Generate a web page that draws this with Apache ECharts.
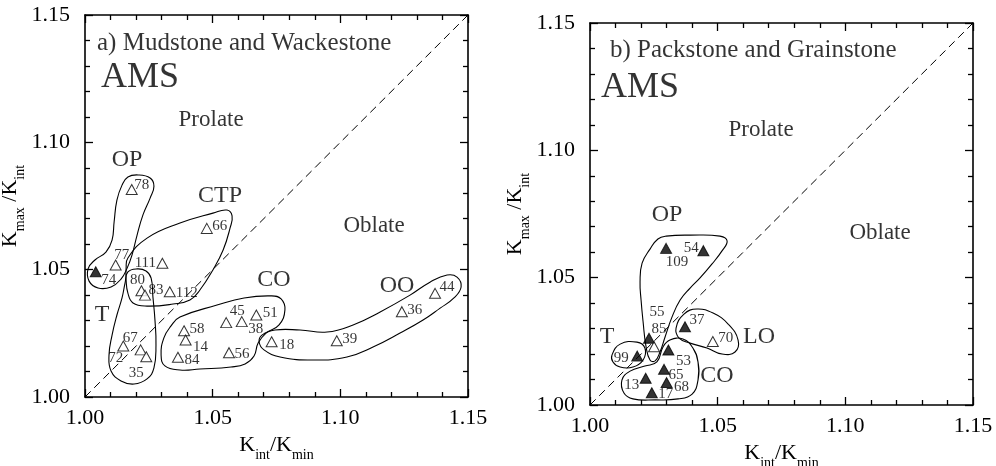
<!DOCTYPE html>
<html><head><meta charset="utf-8">
<script src="https://cdn.jsdelivr.net/npm/echarts@6/dist/echarts.min.js"></script>
<style>html,body{margin:0;padding:0;background:#fff}#main{width:996px;height:466px}</style>
</head><body><div id="main"></div>
<script>
// ---------------- DATA ----------------
const AXIS_MIN = 1.00, AXIS_MAX = 1.15, AXIS_STEP = 0.05;
const tickLabels = ['1.00', '1.05', '1.10', '1.15'];

// a) Mudstone and Wackestone
const leftIds = ['74','77','111','78','66','80','83','112','67','72','35','58','14','84','45','38','51','56','18','39','36','44'];
const leftX   = [1.0042,1.0120,1.0303,1.0183,1.0477,1.0221,1.0235,1.0332,1.0150,1.0218,1.0240,1.0388,1.0394,1.0364,1.0553,1.0614,1.0671,1.0564,1.0731,1.0986,1.1241,1.1371];
const leftY   = [1.0492,1.0518,1.0525,1.0815,1.0662,1.0417,1.0400,1.0413,1.0200,1.0185,1.0158,1.0260,1.0224,1.0156,1.0292,1.0296,1.0322,1.0174,1.0217,1.0221,1.0335,1.0407];
const leftFilled = ['74'];

// b) Packstone and Grainstone
const rightIds = ['109','54','55','85','37','70','99','53','65','13','68','17'];
const rightX   = [1.0298,1.0444,1.0231,1.0251,1.0372,1.0481,1.0185,1.0307,1.0290,1.0218,1.0300,1.0242];
const rightY   = [1.0615,1.0606,1.0262,1.0229,1.0307,1.0249,1.0192,1.0216,1.0140,1.0105,1.0088,1.0048];
const rightOpen = ['85','70'];

// group outlines (data coordinates)
const contourA_OP  = [[1.0208,1.0872],[1.0255,1.0860],[1.0270,1.0828],[1.0255,1.0781],[1.0227,1.0715],[1.0204,1.0636],[1.0184,1.0557],[1.0165,1.0506],[1.0141,1.0463],[1.0102,1.0432],[1.0051,1.0428],[1.0016,1.0455],[1.0012,1.0503],[1.0039,1.0538],[1.0082,1.0569],[1.0106,1.0616],[1.0114,1.0687],[1.0125,1.0773],[1.0145,1.0832],[1.0168,1.0864]];
const contourA_T   = [[1.0168,1.0491],[1.0204,1.0503],[1.0239,1.0495],[1.0259,1.0467],[1.0266,1.0393],[1.0274,1.0302],[1.0278,1.0204],[1.0270,1.0114],[1.0243,1.0071],[1.0192,1.0051],[1.0141,1.0063],[1.0102,1.0102],[1.0094,1.0165],[1.0106,1.0243],[1.0125,1.0322],[1.0145,1.0389],[1.0157,1.0448]];
const contourA_CTP = [[1.0168,1.0546],[1.0243,1.0624],[1.0372,1.0683],[1.0501,1.0722],[1.0556,1.0734],[1.0576,1.0711],[1.0568,1.0663],[1.0541,1.0577],[1.0501,1.0499],[1.0450,1.0420],[1.0411,1.0381],[1.0345,1.0365],[1.0243,1.0357],[1.0188,1.0369],[1.0168,1.0408],[1.0161,1.0459],[1.0161,1.0506]];
const contourA_CO  = [[1.0372,1.0314],[1.0517,1.0361],[1.0623,1.0389],[1.0729,1.0397],[1.0768,1.0385],[1.0783,1.0342],[1.0760,1.0283],[1.0709,1.0251],[1.0678,1.0212],[1.0662,1.0161],[1.0627,1.0130],[1.0572,1.0118],[1.0450,1.0110],[1.0372,1.0106],[1.0313,1.0122],[1.0298,1.0165],[1.0309,1.0232],[1.0337,1.0279]];
const contourA_OO  = [[1.0693,1.0243],[1.0744,1.0263],[1.0842,1.0263],[1.0948,1.0255],[1.1050,1.0283],[1.1156,1.0334],[1.1273,1.0400],[1.1351,1.0451],[1.1418,1.0479],[1.1457,1.0471],[1.1473,1.0432],[1.1445,1.0389],[1.1391,1.0349],[1.1324,1.0302],[1.1234,1.0251],[1.1128,1.0196],[1.1026,1.0157],[1.0893,1.0145],[1.0764,1.0157],[1.0701,1.0185],[1.0682,1.0216]];

const contourB_OP  = [[1.0298,1.0663],[1.0392,1.0667],[1.0509,1.0663],[1.0537,1.0644],[1.0517,1.0605],[1.0478,1.0554],[1.0431,1.0499],[1.0392,1.0459],[1.0353,1.0412],[1.0321,1.0345],[1.0294,1.0267],[1.0274,1.0208],[1.0255,1.0173],[1.0235,1.0177],[1.0219,1.0232],[1.0208,1.0326],[1.0200,1.0412],[1.0196,1.0483],[1.0204,1.0557],[1.0235,1.0612],[1.0266,1.0652]];
const contourB_T   = [[1.0086,1.0196],[1.0118,1.0239],[1.0184,1.0247],[1.0215,1.0224],[1.0208,1.0177],[1.0168,1.0149],[1.0118,1.0149],[1.0090,1.0169]];
const contourB_LO  = [[1.0337,1.0302],[1.0368,1.0357],[1.0419,1.0377],[1.0482,1.0361],[1.0541,1.0318],[1.0580,1.0255],[1.0568,1.0208],[1.0517,1.0200],[1.0458,1.0224],[1.0392,1.0243],[1.0349,1.0263]];
const contourB_CO  = [[1.0262,1.0169],[1.0286,1.0228],[1.0313,1.0255],[1.0364,1.0259],[1.0403,1.0224],[1.0423,1.0169],[1.0423,1.0098],[1.0400,1.0043],[1.0345,1.0024],[1.0255,1.0020],[1.0168,1.0024],[1.0133,1.0047],[1.0125,1.0098],[1.0157,1.0133],[1.0215,1.0153]];

const diagonal = [[1.00,1.00],[1.15,1.15]];

// text annotations (anchored in data coordinates)
const notesA = [
  {t:'a) Mudstone and Wackestone', x:1.0047, y:1.1390, k:'title'},
  {t:'AMS', x:1.0063, y:1.1256, k:'ams'},
  {t:'Prolate', x:1.0494, y:1.1088, k:'region'},
  {t:'Oblate', x:1.1132, y:1.0671, k:'region'},
  {t:'OP', x:1.0165, y:1.0931, k:'group'},
  {t:'CTP', x:1.0529, y:1.0789, k:'group'},
  {t:'CO', x:1.0740, y:1.0459, k:'group'},
  {t:'OO', x:1.1222, y:1.0436, k:'group'},
  {t:'T', x:1.0067, y:1.0322, k:'group'}
];
const notesB = [
  {t:'b) Packstone and Grainstone', x:1.0078, y:1.1394, k:'title'},
  {t:'AMS', x:1.0043, y:1.1245, k:'ams'},
  {t:'Prolate', x:1.0670, y:1.1080, k:'region'},
  {t:'Oblate', x:1.1136, y:1.0675, k:'region'},
  {t:'OP', x:1.0302, y:1.0746, k:'group'},
  {t:'T', x:1.0067, y:1.0267, k:'group'},
  {t:'LO', x:1.0662, y:1.0267, k:'group'},
  {t:'CO', x:1.0497, y:1.0114, k:'group'}
];

// ---------------- STYLE ----------------
const FONT = "'Liberation Serif','Times New Roman',serif";
const noteStyle = {
  title: {fontSize:25, align:'left'},
  ams: {fontSize:36, align:'left'},
  region: {fontSize:23, align:'center'},
  group: {fontSize:24, align:'center'}
};
const labelOffsetA = {
  '74':[13,8],'77':[6,-10],'111':[-17,0],'78':[10,-4],'66':[13,-2],'80':[-4,-11],'83':[11,-5],'112':[17,1],
  '67':[7,-8],'72':[-25,8],'35':[-10,16],'58':[13,-2],'14':[15,7],'84':[14,3],'45':[11,-12],'38':[14,7],
  '51':[14,-2],'56':[13,1],'18':[15,3],'39':[13,-2],'36':[13,-2],'44':[12,-6]
};
const labelOffsetB = {
  '109':[11,14],'54':[-12,-3],'55':[8,-26],'85':[5,-18],'37':[12,-7],'70':[13,-4],'99':[-16,2],
  '53':[15,11],'65':[12,6],'13':[-14,7],'68':[15,4],'17':[14,1]
};

const grids = [
  {left:85, top:15, width:383, height:382},
  {left:590, top:23, width:383, height:382}
];

function tickFmt(v){ const i = Math.round((v - AXIS_MIN) / AXIS_STEP); return tickLabels[i] || ''; }

function axis(gridIndex, position, showLabel, extra){
  const vertical = position === 'left' || position === 'right';
  return Object.assign({
    type:'value', gridIndex, position, min:AXIS_MIN, max:AXIS_MAX, interval:AXIS_STEP,
    axisLine:{show:true, onZero:false, lineStyle:{color:'#000', width:1.6}},
    axisTick:{show:true, inside:true, length:8, lineStyle:{color:'#000', width:1.3}},
    minorTick:{show:true, splitNumber:5, length:5, lineStyle:{color:'#000', width:1.3}},
    splitLine:{show:false}, minorSplitLine:{show:false},
    axisLabel:{show:showLabel, formatter:tickFmt, fontFamily:FONT, fontSize:22, color:'#000',
               margin: vertical ? 15 : 10, showMinLabel:true, showMaxLabel:true},
    axisPointer:{show:false}
  }, extra || {});
}

const subRich = {
  k:{fontFamily:FONT, fontSize:22, color:'#000', padding:[0,0,6,0], verticalAlign:'bottom'},
  s:{fontFamily:FONT, fontSize:14, color:'#000', verticalAlign:'bottom'}
};
const xName = '{k|K}{s|int}{k|/K}{s|min}';
const yName = '{k|K}{s|max}{k| /K}{s|int}';

const xAxes = [], yAxes = [];
[0,1].forEach(g => {
  xAxes.push(axis(g,'bottom',true,{name:xName, nameLocation:'middle', nameGap:36, nameTextStyle:{rich:subRich}}));
  xAxes.push(axis(g,'top',false));
  yAxes.push(axis(g,'left',true,{name:yName, nameLocation:'middle', nameGap: g===0 ? 50 : 52, nameTextStyle:{rich:subRich}}));
  yAxes.push(axis(g,'right',false));
});

function contourSeries(g, pts){
  return {
    type:'custom', coordinateSystem:'cartesian2d', xAxisIndex:g*2, yAxisIndex:g*2, silent:true, z:2,
    data:[pts[0]],
    renderItem:(params, api) => ({
      type:'polygon',
      shape:{points: pts.map(p => api.coord(p)), smooth:0.45},
      style:{fill:'none', stroke:'#000', lineWidth:1.1}
    })
  };
}

function pointSeries(g, ids, xs, ys, isFilled, offsets){
  return {
    type:'scatter', xAxisIndex:g*2, yAxisIndex:g*2, symbol:'triangle', symbolSize:[11,10], z:5, silent:true,
    data: ids.map((id,i) => ({
      name:id, value:[xs[i], ys[i]],
      itemStyle:{color: isFilled(id) ? '#000' : '#fff', borderColor:'#000', borderWidth:1},
      label:{offset: offsets[id] || [12,0]}
    })),
    label:{show:true, position:'inside', formatter:'{b}', fontFamily:FONT, fontSize:15, color:'#000'}
  };
}

function noteSeries(g, notes){
  return {
    type:'scatter', xAxisIndex:g*2, yAxisIndex:g*2, symbolSize:1, z:6, silent:true,
    itemStyle:{color:'rgba(0,0,0,0)'},
    data: notes.map(n => ({name:n.t, value:[n.x, n.y],
      label:{fontSize:noteStyle[n.k].fontSize, align:noteStyle[n.k].align}})),
    label:{show:true, position:'inside', formatter:'{b}', fontFamily:FONT, color:'#000', verticalAlign:'middle'}
  };
}

function diagSeries(g){
  return {type:'line', xAxisIndex:g*2, yAxisIndex:g*2, data:diagonal, symbol:'none', silent:true, z:1,
    lineStyle:{color:'#000', width:1, type:[8,5]}};
}

const series = [
  diagSeries(0), diagSeries(1),
  contourSeries(0, contourA_OP), contourSeries(0, contourA_T), contourSeries(0, contourA_CTP),
  contourSeries(0, contourA_CO), contourSeries(0, contourA_OO),
  contourSeries(1, contourB_OP), contourSeries(1, contourB_T), contourSeries(1, contourB_LO), contourSeries(1, contourB_CO),
  pointSeries(0, leftIds, leftX, leftY, id => leftFilled.includes(id), labelOffsetA),
  pointSeries(1, rightIds, rightX, rightY, id => !rightOpen.includes(id), labelOffsetB),
  noteSeries(0, notesA), noteSeries(1, notesB)
];

const chart = echarts.init(document.getElementById('main'), null, {renderer:'canvas'});
chart.setOption({
  animation:false,
  backgroundColor:'#fff',
  grid: grids.map(g => Object.assign({containLabel:false, outerBoundsMode:'none'}, g)),
  xAxis: xAxes, yAxis: yAxes,
  series
});
</script></body></html>
